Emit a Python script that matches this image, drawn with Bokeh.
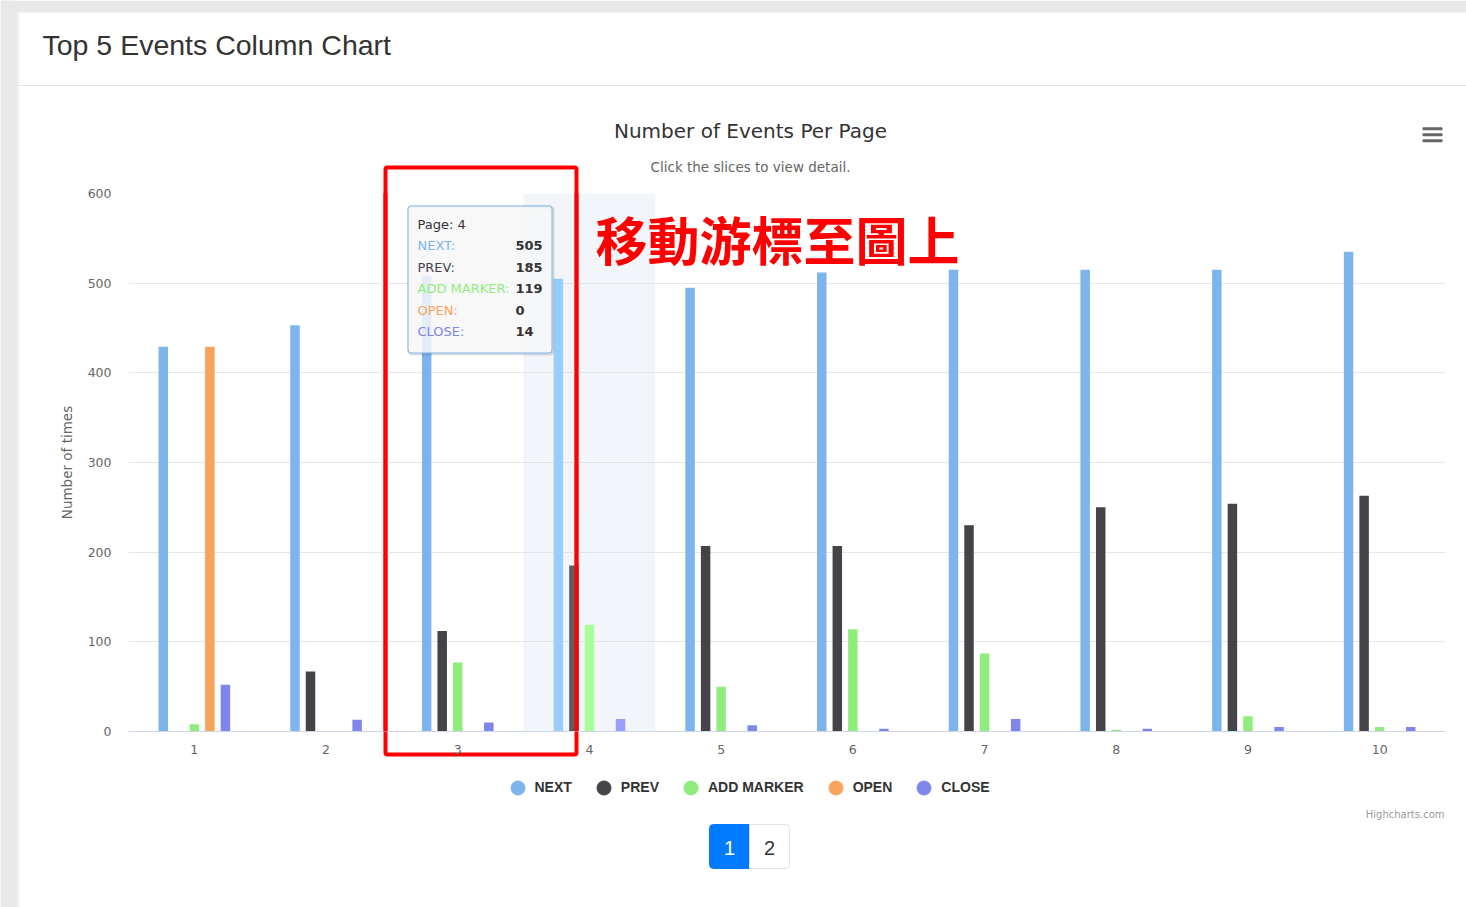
from bokeh.plotting import figure
from bokeh.models import (Range1d, FixedTicker, Label, BoxAnnotation, Legend,
                          LegendItem, ColumnDataSource)
from bokeh.embed import file_html
from bokeh.resources import INLINE

# ---------------- data ----------------
pages = ["1", "2", "3", "4", "5", "6", "7", "8", "9", "10"]
series_names = ["NEXT", "PREV", "ADD MARKER", "OPEN", "CLOSE"]
next_counts = [429, 453, 508, 505, 495, 512, 515, 515, 515, 535]
prev_counts = [0, 67, 112, 185, 207, 207, 230, 250, 254, 263]
add_marker_counts = [8, 0, 77, 119, 50, 114, 87, 2, 17, 5]
open_counts = [429, 0, 0, 0, 0, 0, 0, 0, 0, 0]
close_counts = [52, 13, 10, 14, 7, 3, 14, 3, 5, 5]
series_values = [next_counts, prev_counts, add_marker_counts, open_counts, close_counts]
colors = ["#7cb5ec", "#434348", "#90ed7d", "#f7a35c", "#8085e9"]
hover_colors = ["#95ceff", "#5c5c61", "#a9ff96", "#ffbc75", "#999eff"]
y_ticks = [0, 100, 200, 300, 400, 500, 600]
hovered_page = "4"

# ---------------- geometry ----------------
W, H = 1466, 907
FL, FT, FR, FB = 128, 193, 21, 176
FRAME_BOTTOM = H - FB
FONT = "DejaVu Sans"

# ================= background / page figure =================
bg = figure(width=W, height=H, output_backend="svg", toolbar_location=None,
            x_range=Range1d(0, W), y_range=Range1d(0, H),
            x_axis_type=None, y_axis_type=None, min_border=0,
            outline_line_color=None, background_fill_color="white",
            border_fill_color="white")
bg.grid.visible = False


def bbox(l, r, t, b, **kw):
    kw.setdefault("fill_alpha", 1.0)
    kw.setdefault("line_alpha", 1.0)
    bx = BoxAnnotation(left=l, right=r, top=H - t, bottom=H - b,
                       left_units="screen", right_units="screen",
                       top_units="screen", bottom_units="screen", **kw)
    bg.add_layout(bx)
    return bx


def blabel(X, Y, text, **kw):
    kw.setdefault("text_baseline", "middle")
    lb = Label(x=X, y=H - Y, x_units="screen", y_units="screen", text=text, **kw)
    bg.add_layout(lb)
    return lb


# page frame / card
bbox(0, 17, 0, H, fill_color="#e8e8e8", line_color=None)
bbox(0, W, 0, 12, fill_color="#e8e8e8", line_color=None)
bbox(17, 19, 12, H, fill_color="#f2f2f2", line_color=None)
bbox(17, W, 84.5, 85.5, fill_color="#e3e3e3", line_color=None)
blabel(42, 44, "Top 5 Events Column Chart", text_font="Liberation Sans",
       text_font_size="28.5px", text_color="#333333")

# chart titles
blabel(750, 130, "Number of Events Per Page", text_font=FONT,
       text_font_size="20px", text_color="#333333", text_align="center")
blabel(750, 166, "Click the slices to view detail.", text_font=FONT,
       text_font_size="13.5px", text_color="#666666", text_align="center")

# menu icon
for yy in (128.3, 134.3, 140.3):
    bbox(1422, 1442, yy - 1.5, yy + 1.5, fill_color="#666666", line_color=None,
         border_radius=1)

# credits
blabel(1444, 814, "Highcharts.com", text_font=FONT, text_font_size="10px",
       text_color="#999999", text_align="right")

# legend
legend_items = []
nan = float("nan")
for name, c in zip(series_names, colors):
    r = bg.scatter([nan], [nan], marker="circle", fill_color=c, line_color=c)
    legend_items.append(LegendItem(label=name, renderers=[r]))
legend = Legend(items=legend_items, orientation="horizontal",
                location=(499.5, H - 804.5), glyph_width=35, glyph_height=35,
                label_standoff=0, spacing=14, padding=0, margin=0,
                border_line_color=None, background_fill_alpha=0,
                label_text_font="Liberation Sans", label_text_font_style="bold",
                label_text_font_size="14px", label_text_color="#333333")
bg.add_layout(legend)

# pagination
bbox(709, 749, 824, 868, fill_color="#007bff", line_color="#007bff",
     border_radius=(4, 0, 0, 4))
bbox(749, 789, 824, 868, fill_color="white", line_color="#dee2e6",
     border_radius=(0, 4, 4, 0))
blabel(729, 847, "1", text_font="Liberation Sans", text_font_size="20px",
       text_color="white", text_align="center")
blabel(769, 847, "2", text_font="Liberation Sans", text_font_size="20px",
       text_color="#333333", text_align="center")

# red annotation frame (parts outside the chart area)
bbox(385, 576, 167, 754, fill_color=None, line_color="#ff0000", line_width=4,
     border_radius=2)

# ================= chart figure (overlaid, transparent) =================
p = figure(width=W, height=H, output_backend="svg", toolbar_location=None,
           x_range=Range1d(0.5, len(pages) + 0.5), y_range=Range1d(0, 600),
           min_border_left=FL, min_border_right=FR, min_border_top=FT,
           min_border_bottom=FB, outline_line_color=None,
           background_fill_alpha=0, border_fill_alpha=0,
           styles={"position": "absolute", "left": "0px", "top": "0px"})


def sx(X):
    return X - FL


def sy(Y):
    return FRAME_BOTTOM - Y


def box(l, r, t, b, **kw):
    kw.setdefault("fill_alpha", 1.0)
    kw.setdefault("line_alpha", 1.0)
    bx = BoxAnnotation(left=sx(l), right=sx(r), top=sy(t), bottom=sy(b),
                       left_units="screen", right_units="screen",
                       top_units="screen", bottom_units="screen", **kw)
    p.add_layout(bx)
    return bx


def label(X, Y, text, **kw):
    kw.setdefault("text_baseline", "middle")
    lb = Label(x=sx(X), y=sy(Y), x_units="screen", y_units="screen", text=text, **kw)
    p.add_layout(lb)
    return lb


# hover crosshair band
hi = pages.index(hovered_page) + 1
p.add_layout(BoxAnnotation(left=hi - 0.5, right=hi + 0.5, fill_color="#ccd6eb",
                           fill_alpha=0.25, line_color=None, level="underlay"))

# bars
offset_step = 0.118
bar_w = 0.072
for j, (name, vals) in enumerate(zip(series_names, series_values)):
    xs = [i + 1 + (j - 2) * offset_step for i in range(len(pages))]
    cols = [hover_colors[j] if pages[i] == hovered_page else colors[j]
            for i in range(len(pages))]
    src = ColumnDataSource(dict(x=xs, top=vals, color=cols))
    p.vbar(x="x", top="top", bottom=0, width=bar_w, fill_color="color",
           line_color=None, source=src)

# axes
p.yaxis.ticker = FixedTicker(ticks=y_ticks)
p.yaxis.axis_line_color = None
p.yaxis.major_tick_line_color = None
p.yaxis.major_tick_out = 0
p.yaxis.major_tick_in = 0
p.yaxis.minor_tick_line_color = None
p.yaxis.major_label_text_color = "#666666"
p.yaxis.major_label_text_font = FONT
p.yaxis.major_label_text_font_size = "12.5px"
p.yaxis.major_label_standoff = 17
p.yaxis.axis_label = "Number of times"
p.yaxis.axis_label_text_font = FONT
p.yaxis.axis_label_text_font_style = "normal"
p.yaxis.axis_label_text_font_size = "13.5px"
p.yaxis.axis_label_text_color = "#666666"
p.yaxis.axis_label_standoff = 10

p.xaxis.ticker = FixedTicker(ticks=list(range(1, len(pages) + 1)))
p.xaxis.major_label_overrides = {i + 1: t for i, t in enumerate(pages)}
p.xaxis.axis_line_color = "#ccd6eb"
p.xaxis.major_tick_line_color = None
p.xaxis.major_tick_out = 0
p.xaxis.major_tick_in = 0
p.xaxis.minor_tick_line_color = None
p.xaxis.major_label_text_color = "#666666"
p.xaxis.major_label_text_font = FONT
p.xaxis.major_label_text_font_size = "12.5px"
p.xaxis.major_label_standoff = 13

p.xgrid.grid_line_color = None
p.ygrid.grid_line_color = "#e6e6e6"
p.ygrid.ticker = FixedTicker(ticks=y_ticks)

# tooltip for hovered page
hidx = pages.index(hovered_page)
box(408.5, 552.5, 206.5, 353.5, fill_color=None, line_color="black",
    line_alpha=0.12, line_width=3, border_radius=3, level="overlay")
box(407.5, 551.5, 205.5, 352.5, fill_color="#f7f7f7", fill_alpha=0.85,
    line_color="#7cb5ec", line_width=1, border_radius=3, level="overlay")
label(417, 224, "Page: " + hovered_page, text_font=FONT,
      text_font_size="13px", text_color="#333333", level="overlay")
row_y = [245, 266.5, 288, 309.5, 331]
for name, c, vals, yy in zip(series_names, colors, series_values, row_y):
    label(417, yy, name + ":", text_font=FONT, text_font_size="13px",
          text_color=c, level="overlay")
    label(515, yy, str(vals[hidx]), text_font=FONT, text_font_size="13px",
          text_font_style="bold", text_color="#333333", level="overlay")

# red annotation (part inside the chart area, drawn over the bars)
box(385, 576, 167, 754, fill_color=None, line_color="#ff0000", line_width=4,
    border_radius=2, level="overlay")
label(595, 238, "移動游標至圖上", text_font="Noto Sans CJK TC",
      text_font_style="bold", text_font_size="52px", text_color="#ff0000",
      level="overlay")

open("out.html", "w").write(file_html([bg, p], INLINE))
